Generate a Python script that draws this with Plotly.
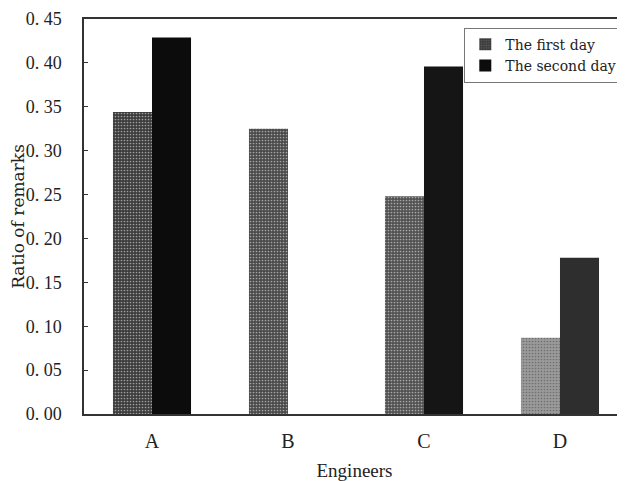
import plotly.graph_objects as go

engineers = ["A", "B", "C", "D"]
first_day = [0.344, 0.325, 0.248, 0.087]
second_day = [0.429, None, 0.396, 0.178]
y_ticks = [0.00, 0.05, 0.10, 0.15, 0.20, 0.25, 0.30, 0.35, 0.40, 0.45]

first_colors = ["#3c3c3c", "#4a4a4a", "#525252", "#9a9a9a"]
second_colors = ["#0c0c0c", "#0c0c0c", "#151515", "#2e2e2e"]

SERIF = "Liberation Serif"
WIDE = "DejaVu Serif"

fig = go.Figure()
fig.add_trace(go.Bar(
    x=engineers, y=first_day, name="The first day",
    marker=dict(color=first_colors, line=dict(width=0),
                pattern=dict(shape=".", fgcolor="#8a8a8a", size=3, solidity=0.25)),
))
fig.add_trace(go.Bar(
    x=engineers, y=second_day, name="The second day",
    marker=dict(color=second_colors, line=dict(width=0)),
))

fig.update_layout(
    width=617, height=473,
    margin=dict(l=76, r=0, t=10.5, b=66.5, autoexpand=False),
    paper_bgcolor="white", plot_bgcolor="white",
    barmode="group", bargap=0.426, bargroupgap=0,
    font=dict(family=SERIF, color="#222", size=16),
    showlegend=True,
    legend=dict(x=0.995, y=0.978, xanchor="right", yanchor="top",
                bgcolor="white", bordercolor="#777", borderwidth=1,
                font=dict(family=WIDE, size=14, color="#222"),
                itemwidth=30, tracegroupgap=0, itemsizing="constant"),
    xaxis=dict(range=[-0.5, 3.478], showline=True, linecolor="#333", linewidth=1.5,
               mirror=True, ticks="", showgrid=False, automargin=False,
               ticklabelstandoff=8,
               tickfont=dict(family=SERIF, size=20, color="#222"),
               title=dict(text="Engineers", font=dict(family=SERIF, size=19, color="#222"))),
    yaxis=dict(range=[0, 0.45], showline=True, linecolor="#333", linewidth=1.5,
               ticks="inside", ticklen=4, tickcolor="#333", showgrid=False, zeroline=False,
               automargin=False, ticklabelstandoff=17,
               tickvals=y_ticks, ticktext=["0. %02d" % round(v * 100) for v in y_ticks],
               tickfont=dict(family=SERIF, size=18, color="#222"),
               title=dict(text="Ratio of remarks", font=dict(family=WIDE, size=17, color="#222"))),
)

fig.write_html("out.html")
